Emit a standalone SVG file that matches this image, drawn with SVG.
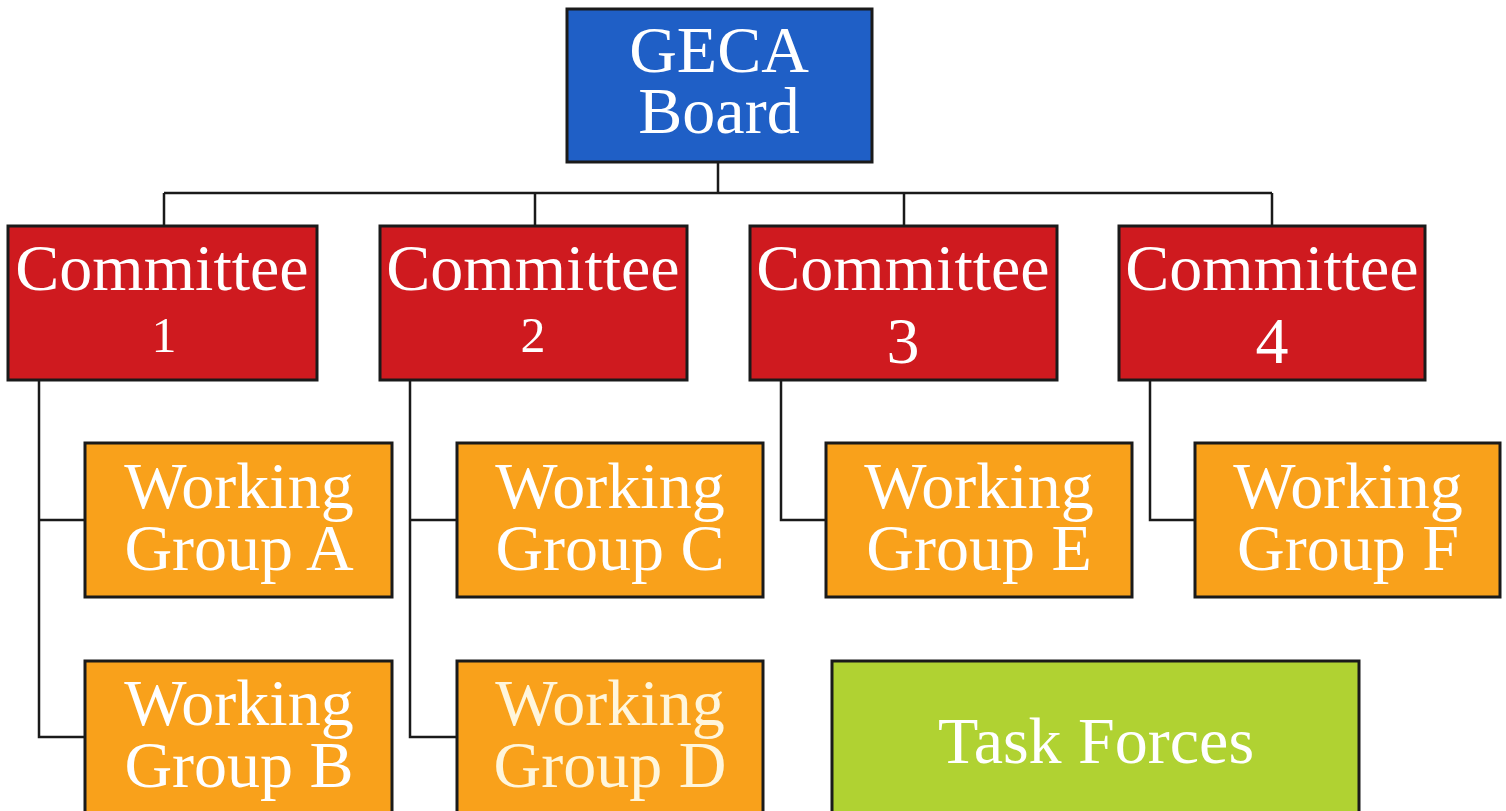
<svg xmlns="http://www.w3.org/2000/svg" width="1506" height="811" viewBox="0 0 1506 811">
<style>
.box{stroke:#1a1a1a;stroke-width:3}
.blue{fill:#1f5fc6}
.red{fill:#cf1a1f}
.orange{fill:#f9a11b}
.green{fill:#b0d232}
.t{font-family:"Liberation Serif","DejaVu Serif",serif;font-size:66px;fill:#ffffff;text-anchor:middle}
.small{font-size:50px}
.conn{fill:none;stroke:#1a1a1a;stroke-width:2.5}
</style>
<rect width="1506" height="811" fill="#ffffff"/>
<g id="connectors">
<path class="conn" d="M718 162 V193 M164 193 H1272 M164 193 V226 M535 193 V226 M904 193 V226 M1272 193 V226"/>
<path class="conn" d="M39 380 V737 H85 M39 520 H85"/>
<path class="conn" d="M410 380 V737 H457 M410 520 H457"/>
<path class="conn" d="M781 380 V520 H826"/>
<path class="conn" d="M1150 380 V520 H1195"/>
</g>
<g id="geca-board">
<rect class="box blue" x="567" y="9" width="305" height="153"/>
<text class="t" x="719" y="72">GECA</text>
<text class="t" x="719" y="133">Board</text>
</g>
<g id="committee-1">
<rect class="box red" x="8" y="226" width="309" height="154"/>
<text class="t" x="162" y="290">Committee</text>
<text class="t small" x="164" y="352">1</text>
</g>
<g id="committee-2">
<rect class="box red" x="380" y="226" width="307" height="154"/>
<text class="t" x="533" y="290">Committee</text>
<text class="t small" x="533" y="352">2</text>
</g>
<g id="committee-3">
<rect class="box red" x="750" y="226" width="307" height="154"/>
<text class="t" x="903" y="290">Committee</text>
<text class="t" x="903" y="363">3</text>
</g>
<g id="committee-4">
<rect class="box red" x="1119" y="226" width="306" height="154"/>
<text class="t" x="1272" y="290">Committee</text>
<text class="t" x="1272" y="363">4</text>
</g>
<g id="wg-a">
<rect class="box orange" x="85" y="443" width="307" height="154"/>
<text class="t" x="239" y="508">Working</text>
<text class="t" x="239" y="570">Group A</text>
</g>
<g id="wg-c">
<rect class="box orange" x="457" y="443" width="306" height="154"/>
<text class="t" x="610" y="508">Working</text>
<text class="t" x="610" y="570">Group C</text>
</g>
<g id="wg-e">
<rect class="box orange" x="826" y="443" width="306" height="154"/>
<text class="t" x="979" y="508">Working</text>
<text class="t" x="979" y="570">Group E</text>
</g>
<g id="wg-f">
<rect class="box orange" x="1195" y="443" width="305" height="154"/>
<text class="t" x="1348" y="508">Working</text>
<text class="t" x="1348" y="570">Group F</text>
</g>
<g id="wg-b">
<rect class="box orange" x="85" y="661" width="307" height="160"/>
<text class="t" x="239" y="725">Working</text>
<text class="t" x="239" y="787">Group B</text>
</g>
<g id="wg-d">
<rect class="box orange" x="457" y="661" width="306" height="160"/>
<text class="t" x="610" y="725" style="fill:#fff6dc">Working</text>
<text class="t" x="610" y="787" style="fill:#fff6dc">Group D</text>
</g>
<g id="task-forces">
<rect class="box green" x="832" y="661" width="527" height="160"/>
<text class="t" x="1096" y="763">Task Forces</text>
</g>
</svg>
